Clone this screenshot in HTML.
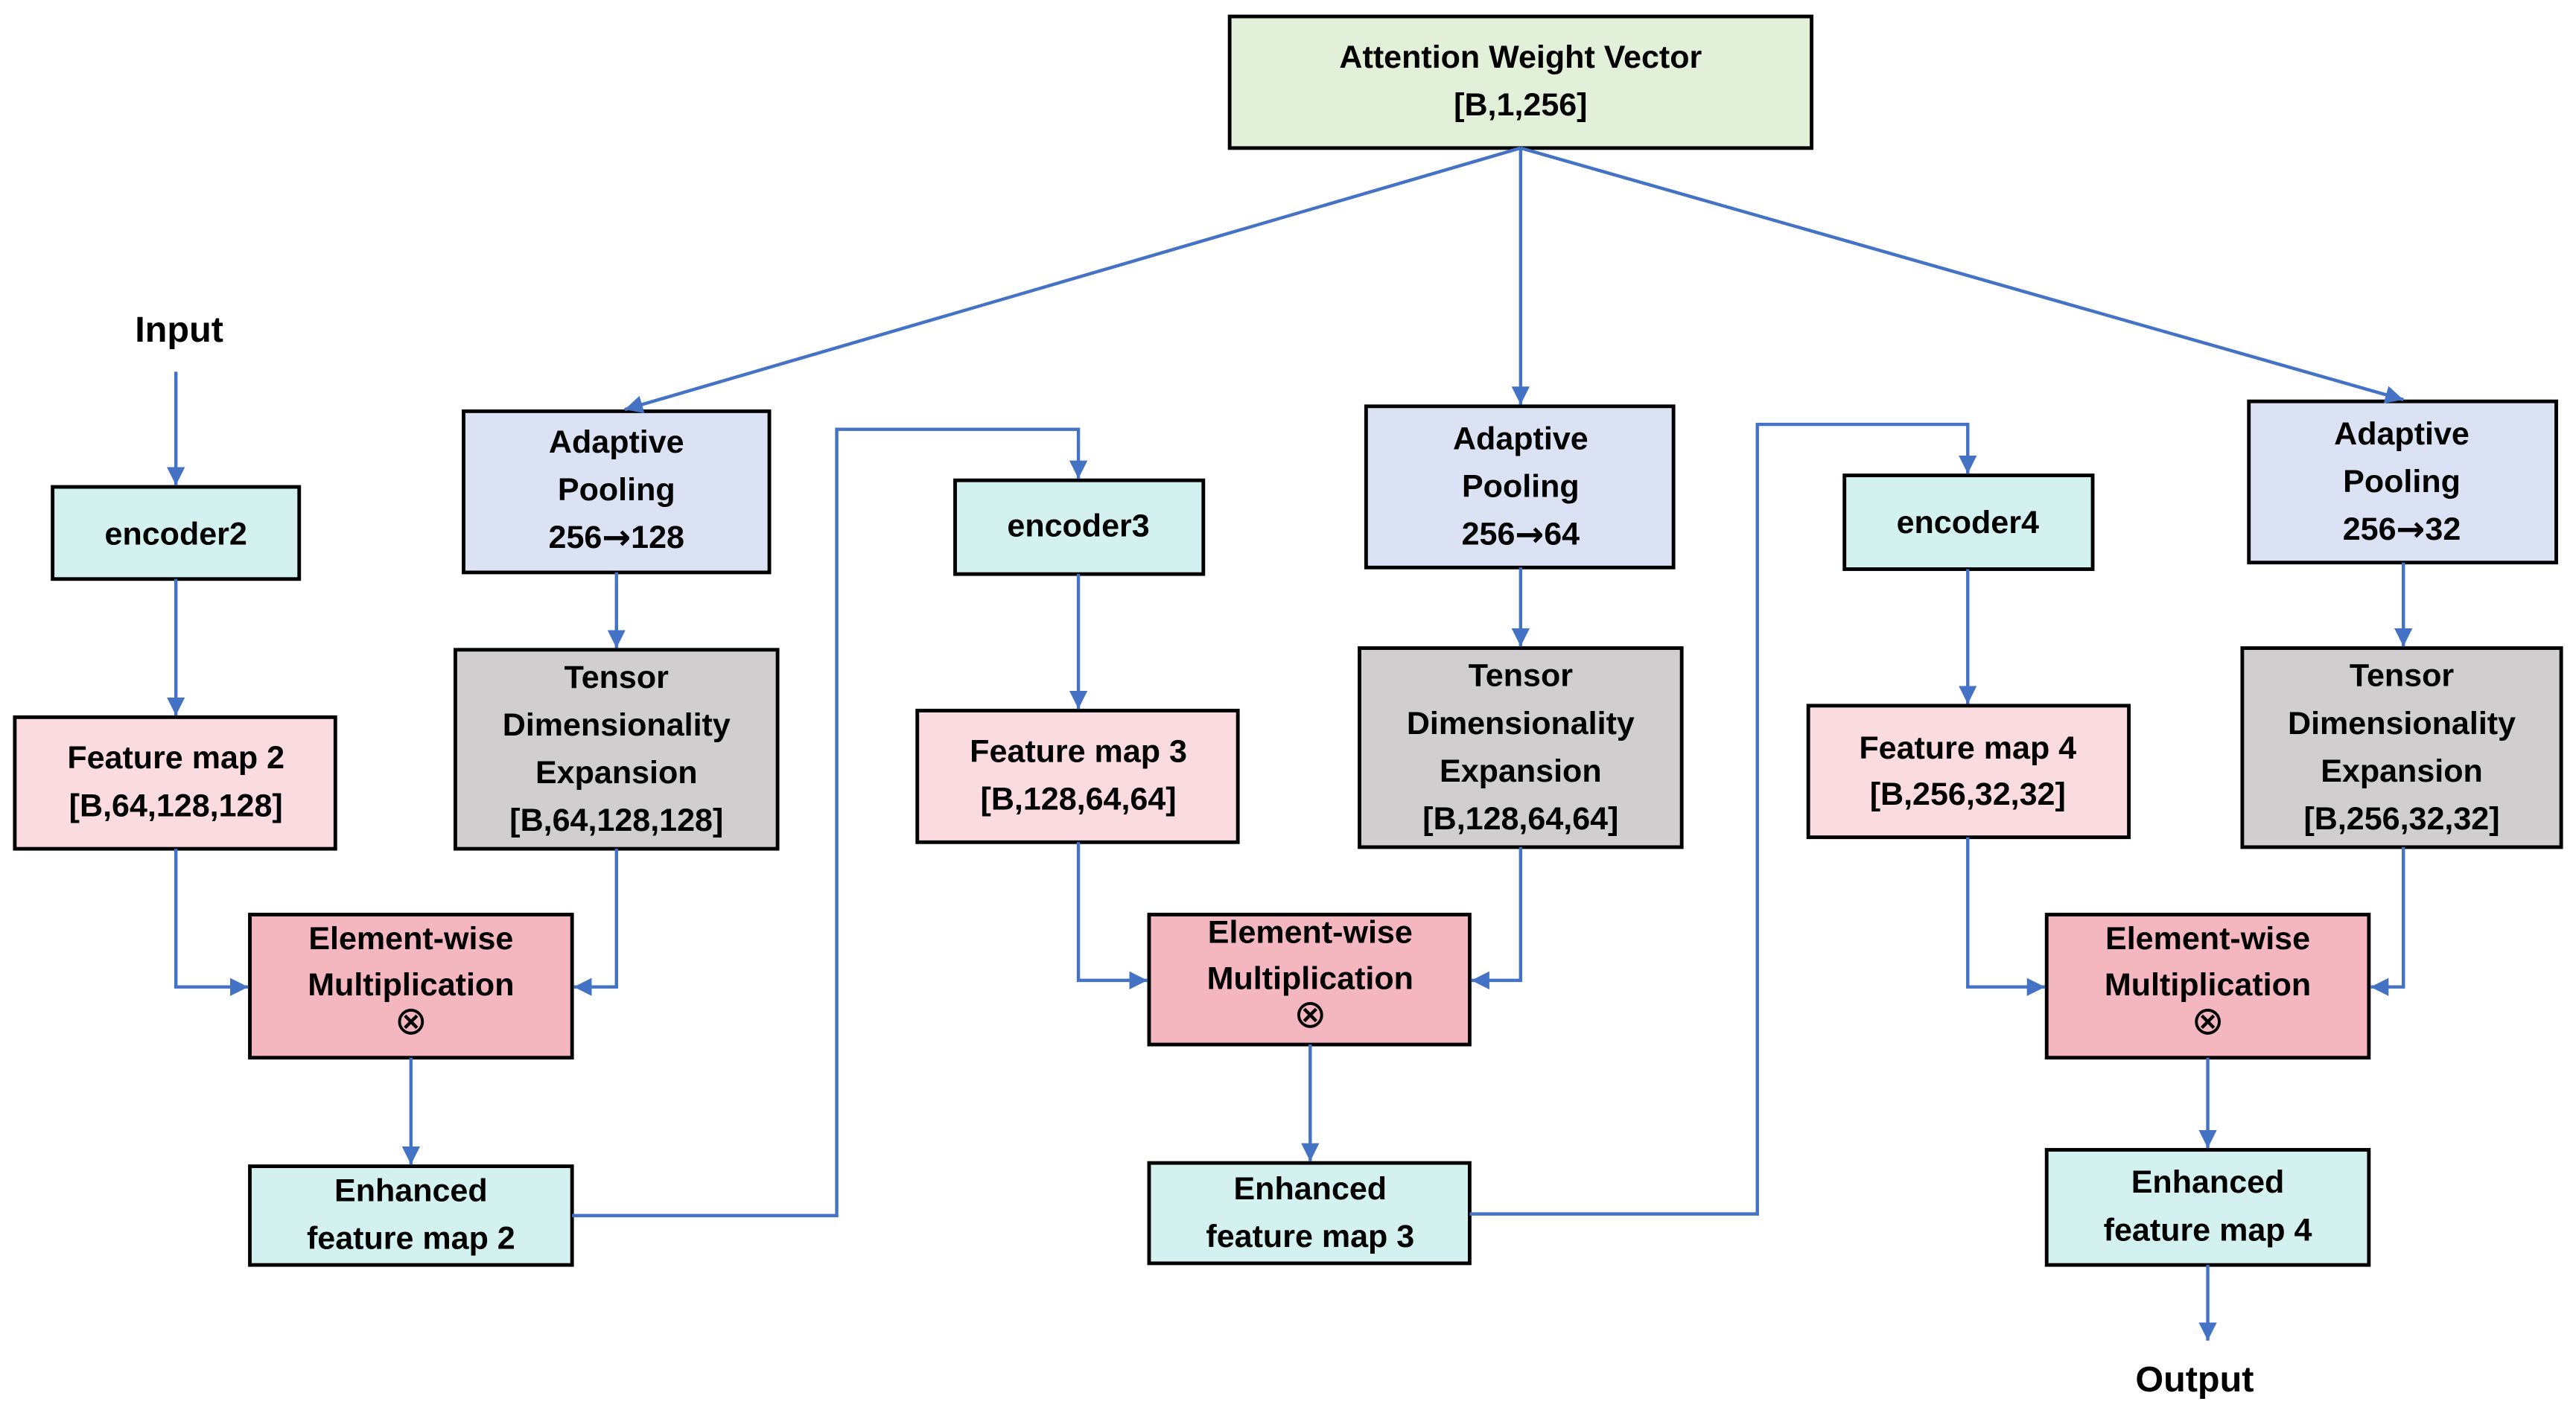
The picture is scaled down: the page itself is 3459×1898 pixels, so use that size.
<!DOCTYPE html>
<html><head><meta charset="utf-8"><style>
html,body{margin:0;padding:0;background:#fff;}
svg{display:block;}
text{font-family:"Liberation Sans",Arial,sans-serif;font-weight:bold;font-size:19.5px;fill:#000;text-anchor:middle;dominant-baseline:middle;}
.ar{font-family:"DejaVu Sans",sans-serif;font-size:21px;}
.ot{font-family:"DejaVu Sans",sans-serif;font-size:24px;font-weight:normal;}
.b{stroke:#000;stroke-width:2.2;}
.c{fill:none;stroke:#4472c4;stroke-width:2;marker-end:url(#a);}
</style></head><body>
<svg width="3459" height="1898" viewBox="0 0 1567 859" preserveAspectRatio="none" xmlns="http://www.w3.org/2000/svg">
<defs><marker id="a" viewBox="0 0 10 10" refX="10" refY="5" markerWidth="5.5" markerHeight="5.5" orient="auto" markerUnits="strokeWidth"><path d="M0,0 L10,5 L0,10 z" fill="#4472c4"/></marker></defs>

<rect class="b" x="748" y="10" width="354" height="80" fill="#e2efd9"/>
<text x="925" y="36">Attention Weight Vector</text><text x="925" y="65">[B,1,256]</text>

<text x="109" y="202" style="font-size:22px">Input</text>
<text x="1335" y="840" style="font-size:22px">Output</text>

<rect class="b" x="32" y="296" width="150" height="56" fill="#d3f2ef"/><text x="107" y="326">encoder2</text>
<rect class="b" x="9" y="436" width="195" height="80" fill="#fadbe0"/><text x="107" y="462">Feature map 2</text><text x="107" y="491">[B,64,128,128]</text>
<rect class="b" x="282" y="250" width="186" height="98" fill="#dae2f4"/><text x="375" y="270">Adaptive</text><text x="375" y="299">Pooling</text><text x="375" y="328">256<tspan class="ar">→</tspan>128</text>
<rect class="b" x="277" y="395" width="196" height="121" fill="#d0cece"/><text x="375" y="413">Tensor</text><text x="375" y="442">Dimensionality</text><text x="375" y="471">Expansion</text><text x="375" y="500">[B,64,128,128]</text>
<rect class="b" x="152" y="556" width="196" height="87" fill="#f4b6bf"/><text x="250" y="572">Element-wise</text><text x="250" y="600">Multiplication</text><text class="ot" x="250" y="622">⊗</text>
<rect class="b" x="152" y="709" width="196" height="60" fill="#d3f2ef"/><text x="250" y="725">Enhanced</text><text x="250" y="754">feature map 2</text>

<rect class="b" x="581" y="292" width="151" height="57" fill="#d3f2ef"/><text x="656" y="321">encoder3</text>
<rect class="b" x="558" y="432" width="195" height="80" fill="#fadbe0"/><text x="656" y="458">Feature map 3</text><text x="656" y="487">[B,128,64,64]</text>
<rect class="b" x="831" y="247" width="187" height="98" fill="#dae2f4"/><text x="925" y="268">Adaptive</text><text x="925" y="297">Pooling</text><text x="925" y="326">256<tspan class="ar">→</tspan>64</text>
<rect class="b" x="827" y="394" width="196" height="121" fill="#d0cece"/><text x="925" y="412">Tensor</text><text x="925" y="441">Dimensionality</text><text x="925" y="470">Expansion</text><text x="925" y="499">[B,128,64,64]</text>
<rect class="b" x="699" y="556" width="195" height="79" fill="#f4b6bf"/><text x="797" y="568">Element-wise</text><text x="797" y="596">Multiplication</text><text class="ot" x="797" y="618">⊗</text>
<rect class="b" x="699" y="707" width="195" height="61" fill="#d3f2ef"/><text x="797" y="724">Enhanced</text><text x="797" y="753">feature map 3</text>

<rect class="b" x="1122" y="289" width="151" height="57" fill="#d3f2ef"/><text x="1197" y="319">encoder4</text>
<rect class="b" x="1100" y="429" width="195" height="80" fill="#fadbe0"/><text x="1197" y="456">Feature map 4</text><text x="1197" y="484">[B,256,32,32]</text>
<rect class="b" x="1368" y="244" width="187" height="98" fill="#dae2f4"/><text x="1461" y="265">Adaptive</text><text x="1461" y="294">Pooling</text><text x="1461" y="323">256<tspan class="ar">→</tspan>32</text>
<rect class="b" x="1364" y="394" width="194" height="121" fill="#d0cece"/><text x="1461" y="412">Tensor</text><text x="1461" y="441">Dimensionality</text><text x="1461" y="470">Expansion</text><text x="1461" y="499">[B,256,32,32]</text>
<rect class="b" x="1245" y="556" width="196" height="87" fill="#f4b6bf"/><text x="1343" y="572">Element-wise</text><text x="1343" y="600">Multiplication</text><text class="ot" x="1343" y="622">⊗</text>
<rect class="b" x="1245" y="699" width="196" height="70" fill="#d3f2ef"/><text x="1343" y="720">Enhanced</text><text x="1343" y="749">feature map 4</text>

<path class="c" d="M107,226 V295"/>
<path class="c" d="M107,352 V435"/>
<path class="c" d="M107,516 V600 H151"/>
<path class="c" d="M375,516 V600 H349"/>
<path class="c" d="M375,348 V394"/>
<path class="c" d="M250,643 V708"/>
<path class="c" d="M348,739 H509 V261 H656 V291"/>
<path class="c" d="M656,349 V431"/>
<path class="c" d="M656,512 V596 H698"/>
<path class="c" d="M925,515 V596 H895"/>
<path class="c" d="M925,345 V393"/>
<path class="c" d="M797,635 V706"/>
<path class="c" d="M894,738 H1069 V258 H1197 V288"/>
<path class="c" d="M1197,346 V428"/>
<path class="c" d="M1197,509 V600 H1244"/>
<path class="c" d="M1462,515 V600 H1442"/>
<path class="c" d="M1462,342 V393"/>
<path class="c" d="M1343,643 V698"/>
<path class="c" d="M1343,769 V815"/>
<path class="c" d="M925,90 L380,249"/>
<path class="c" d="M925,90 V246"/>
<path class="c" d="M925,90 L1462,243"/>
</svg>
</body></html>
